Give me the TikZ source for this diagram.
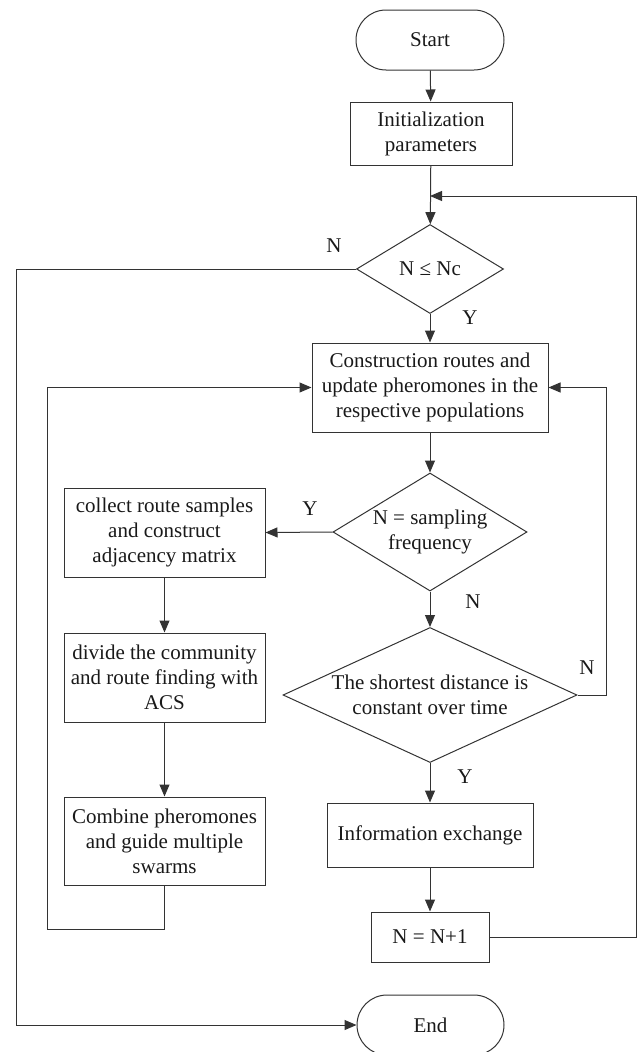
\documentclass[tikz,border=0pt]{standalone}
\usepackage{fontspec}
\setmainfont{Liberation Serif}
\usetikzlibrary{shapes.geometric,arrows.meta}
\begin{document}
\begin{tikzpicture}[x=1pt,y=-1pt,
  every node/.style={font=\fontsize{21}{25}\selectfont, text=black!90},
  box/.style={draw=black!80, line width=1pt, rectangle, inner sep=0pt, align=center},
  term/.style={draw=black!80, line width=1pt, rectangle, rounded corners=30pt, inner sep=0pt, minimum width=148pt, minimum height=60pt},
  dec/.style={draw=black!80, line width=1pt, diamond, inner sep=0pt, align=center},
  lbl/.style={inner sep=0pt},
  arr/.style={draw=black!80, line width=1pt, -{Triangle[length=12pt,width=10pt]}},
  ln/.style={draw=black!80, line width=1pt}]
\useasboundingbox (0,0) rectangle (637,1052);
\clip (0,0) rectangle (637,1052);

\node[term] (start) at (430,40) {Start};
\node[box, minimum width=162pt, minimum height=63pt] (init) at (431,133.5) {Initialization\\parameters};
\node[dec, minimum width=147pt, minimum height=89pt] (d1) at (430,269) {N ≤ Nc};
\node[box, minimum width=236pt, minimum height=89pt] (cons) at (430,387.5) {Construction routes and\\update pheromones in the\\respective populations};
\node[dec, shape aspect=1.64, minimum width=194pt, minimum height=118pt] (d2) at (430,532) {N = sampling\\frequency};
\node[dec, shape aspect=2.18, minimum width=294pt, minimum height=135pt] (d3) at (430,695) {The shortest distance is\\constant over time};
\node[box, minimum width=206pt, minimum height=64pt] (info) at (430,835) {Information exchange};
\node[box, minimum width=118pt, minimum height=50pt] (nn) at (430,937) {N = N+1};
\node[term, minimum width=147pt] (end) at (430.5,1025) {End};

\node[box, minimum width=201pt, minimum height=89pt] (collect) at (164.5,532.5) {collect route samples\\and construct\\adjacency matrix};
\node[box, minimum width=201pt, minimum height=89pt] (divide) at (164.5,677.5) {divide the community\\and route finding with\\ACS};
\node[box, minimum width=201pt, minimum height=88pt] (combine) at (164.5,841) {Combine pheromones\\and guide multiple\\swarms};

\coordinate (j1) at (430,196);
\coordinate (ro) at (636,196);
\coordinate (lo) at (16,269);
\coordinate (ri) at (606,695);
\coordinate (lb) at (47,929);

\draw[arr] (start) -- (init);
\draw[arr] (init) -- (d1);
\draw[arr] (nn.east) -| (ro) -- (j1);
\draw[arr] (d1.west) -- (lo) |- (end.west);
\draw[arr] (d1.south) -- (cons.north);
\draw[arr] (cons.south) -- (d2.north);
\draw[arr] (d2.west) -- (collect.east);
\draw[arr] (d2.south) -- (d3.north);
\draw[arr] (d3.east) -- (ri) |- (cons.east);
\draw[arr] (d3.south) -- (info.north);
\draw[arr] (info) -- (nn);
\draw[arr] (collect) -- (divide);
\draw[arr] (divide) -- (combine);
\draw[arr] (combine.south) |- (lb) |- (cons.west);

\node[lbl] (ln1) at (334,246) {N};
\node[lbl] (ly1) at (470,318) {Y};
\node[lbl] (ly2) at (310,509) {Y};
\node[lbl] (ln2) at (473,602) {N};
\node[lbl] (ln3) at (587,668) {N};
\node[lbl] (ly3) at (465,777) {Y};
\end{tikzpicture}
\end{document}
